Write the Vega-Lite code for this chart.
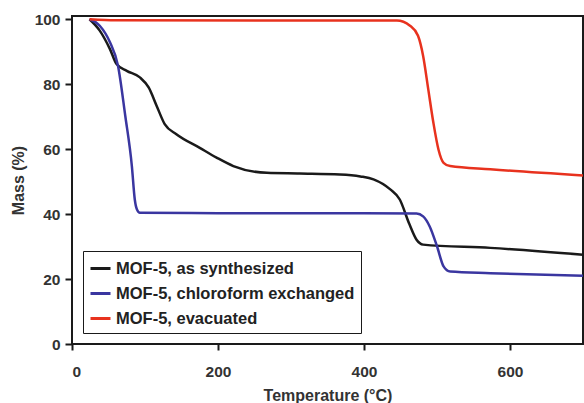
{
  "$schema": "https://vega.github.io/schema/vega-lite/v6.json",
  "width": 511,
  "height": 328,
  "autosize": {"type": "none"},
  "padding": {"left": 72, "top": 16, "right": 1, "bottom": 59},
  "background": "white",
  "config": {
    "font": "Liberation Sans",
    "view": {"stroke": "#1a1a1a", "strokeWidth": 2},
    "axis": {
      "labelFont": "Liberation Sans", "labelFontWeight": "bold", "labelFontSize": 15.5, "labelColor": "#333",
      "titleFont": "Liberation Sans", "titleFontWeight": "bold", "titleFontSize": 16, "titleColor": "#333",
      "domain": false, "grid": false, "tickColor": "#1a1a1a", "tickWidth": 2
    },
    "legend": {
      "labelFont": "Liberation Sans", "labelFontWeight": "bold", "labelFontSize": 16.5, "labelColor": "#222"
    }
  },
  "data": {"values": [
    {"s": "MOF-5, as synthesized", "T": 24, "M": 100},
    {"s": "MOF-5, as synthesized", "T": 38, "M": 96.5},
    {"s": "MOF-5, as synthesized", "T": 52, "M": 90.8},
    {"s": "MOF-5, as synthesized", "T": 61, "M": 86.2},
    {"s": "MOF-5, as synthesized", "T": 75, "M": 84.1},
    {"s": "MOF-5, as synthesized", "T": 93, "M": 82.1},
    {"s": "MOF-5, as synthesized", "T": 105, "M": 79},
    {"s": "MOF-5, as synthesized", "T": 116, "M": 73.3},
    {"s": "MOF-5, as synthesized", "T": 127, "M": 67.7},
    {"s": "MOF-5, as synthesized", "T": 143, "M": 64.6},
    {"s": "MOF-5, as synthesized", "T": 175, "M": 60.4},
    {"s": "MOF-5, as synthesized", "T": 198, "M": 57.4},
    {"s": "MOF-5, as synthesized", "T": 221, "M": 54.8},
    {"s": "MOF-5, as synthesized", "T": 267, "M": 52.7},
    {"s": "MOF-5, as synthesized", "T": 312, "M": 52.5},
    {"s": "MOF-5, as synthesized", "T": 367, "M": 52.2},
    {"s": "MOF-5, as synthesized", "T": 395, "M": 51.6},
    {"s": "MOF-5, as synthesized", "T": 413, "M": 50.7},
    {"s": "MOF-5, as synthesized", "T": 436, "M": 47.6},
    {"s": "MOF-5, as synthesized", "T": 449, "M": 44.5},
    {"s": "MOF-5, as synthesized", "T": 462, "M": 37},
    {"s": "MOF-5, as synthesized", "T": 472, "M": 32.1},
    {"s": "MOF-5, as synthesized", "T": 481, "M": 30.6},
    {"s": "MOF-5, as synthesized", "T": 573, "M": 29.6},
    {"s": "MOF-5, as synthesized", "T": 700, "M": 27.5},
    {"s": "MOF-5, chloroform exchanged", "T": 24, "M": 100},
    {"s": "MOF-5, chloroform exchanged", "T": 38, "M": 98},
    {"s": "MOF-5, chloroform exchanged", "T": 52, "M": 92.9},
    {"s": "MOF-5, chloroform exchanged", "T": 63, "M": 85.7},
    {"s": "MOF-5, chloroform exchanged", "T": 73, "M": 70.2},
    {"s": "MOF-5, chloroform exchanged", "T": 82, "M": 54.8},
    {"s": "MOF-5, chloroform exchanged", "T": 86, "M": 44.5},
    {"s": "MOF-5, chloroform exchanged", "T": 89, "M": 41.4},
    {"s": "MOF-5, chloroform exchanged", "T": 93, "M": 40.4},
    {"s": "MOF-5, chloroform exchanged", "T": 200, "M": 40.3},
    {"s": "MOF-5, chloroform exchanged", "T": 400, "M": 40.3},
    {"s": "MOF-5, chloroform exchanged", "T": 472, "M": 40.2},
    {"s": "MOF-5, chloroform exchanged", "T": 481, "M": 39.3},
    {"s": "MOF-5, chloroform exchanged", "T": 490, "M": 36.2},
    {"s": "MOF-5, chloroform exchanged", "T": 500, "M": 30.1},
    {"s": "MOF-5, chloroform exchanged", "T": 509, "M": 23.9},
    {"s": "MOF-5, chloroform exchanged", "T": 518, "M": 22.3},
    {"s": "MOF-5, chloroform exchanged", "T": 573, "M": 21.8},
    {"s": "MOF-5, chloroform exchanged", "T": 700, "M": 21},
    {"s": "MOF-5, evacuated", "T": 24, "M": 100},
    {"s": "MOF-5, evacuated", "T": 60, "M": 99.7},
    {"s": "MOF-5, evacuated", "T": 300, "M": 99.6},
    {"s": "MOF-5, evacuated", "T": 445, "M": 99.6},
    {"s": "MOF-5, evacuated", "T": 463, "M": 98},
    {"s": "MOF-5, evacuated", "T": 474, "M": 94.9},
    {"s": "MOF-5, evacuated", "T": 481, "M": 88.7},
    {"s": "MOF-5, evacuated", "T": 488, "M": 78.5},
    {"s": "MOF-5, evacuated", "T": 495, "M": 68.2},
    {"s": "MOF-5, evacuated", "T": 502, "M": 59.9},
    {"s": "MOF-5, evacuated", "T": 509, "M": 55.8},
    {"s": "MOF-5, evacuated", "T": 518, "M": 54.8},
    {"s": "MOF-5, evacuated", "T": 573, "M": 53.8},
    {"s": "MOF-5, evacuated", "T": 700, "M": 51.9}
  ]},
  "mark": {"type": "line", "strokeWidth": 2.5, "interpolate": "monotone", "clip": true},
  "encoding": {
    "x": {
      "field": "T", "type": "quantitative",
      "scale": {"domain": [0, 700], "nice": false},
      "axis": {"values": [0, 200, 400, 600], "title": "Temperature (°C)", "tickSize": 6, "labelPadding": 14, "titlePadding": 8}
    },
    "y": {
      "field": "M", "type": "quantitative",
      "scale": {"domain": [0, 101], "nice": false},
      "axis": {"values": [0, 20, 40, 60, 80, 100], "title": "Mass (%)", "tickSize": 7, "labelPadding": 5, "titlePadding": 8}
    },
    "color": {
      "field": "s", "type": "nominal",
      "sort": ["MOF-5, as synthesized", "MOF-5, chloroform exchanged", "MOF-5, evacuated"],
      "scale": {
        "domain": ["MOF-5, as synthesized", "MOF-5, chloroform exchanged", "MOF-5, evacuated"],
        "range": ["#1a1a1a", "#3a36a0", "#e8321e"]
      },
      "legend": {
        "title": null, "orient": "bottom-left", "offset": 11,
        "symbolType": "stroke", "symbolStrokeWidth": 3, "symbolSize": 400,
        "strokeColor": "#1a1a1a", "fillColor": "white", "padding": 6,
        "rowPadding": 5, "labelOffset": 4, "labelLimit": 400
      }
    }
  }
}
